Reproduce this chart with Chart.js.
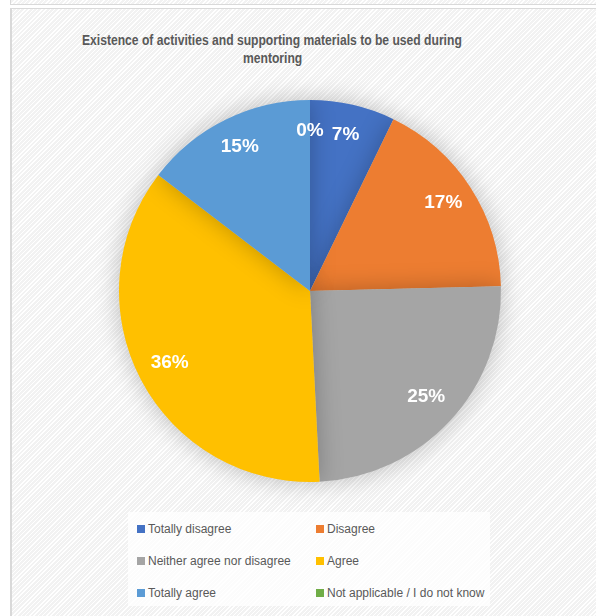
<!DOCTYPE html>
<html>
<head>
<meta charset="utf-8">
<script src="https://cdn.jsdelivr.net/npm/chart.js@4.4.1/dist/chart.umd.min.js"></script>
<style>
  html, body { margin: 0; padding: 0; width: 596px; height: 616px; overflow: hidden; background: #ffffff; }
  .pattern {
    background-color: #f6f6f6;
    background-image: repeating-linear-gradient(135deg, #ffffff 0px, #ffffff 1px, #f2f2f2 1px, #f2f2f2 3px);
  }
  #topbox { position: absolute; left: 10px; top: -10px; width: 600px; height: 15px; border: 1px solid #d9d9d9; box-sizing: border-box; }
  #frame { position: absolute; left: 10px; top: 8px; width: 620px; height: 640px; border: 1px solid #d9d9d9; border-width: 1px 0 0 2px; box-sizing: border-box; }
  .tl { position: absolute; left: 272px; font-family: "Liberation Sans", Arial, sans-serif; font-weight: bold; font-size: 14px; line-height: 18px; color: #595959; white-space: nowrap; transform-origin: 0 0; }
  #wrap { position: absolute; left: 89px; top: 70px; width: 442px; height: 442px; }
  #legend { position: absolute; left: 128px; top: 512px; width: 362px; height: 94px; background: rgba(255,255,255,0.75); }
  .li { position: absolute; font-family: "Liberation Sans", Arial, sans-serif; font-size: 12px; color: #595959; white-space: nowrap; line-height: 14px; }
  .li span.sw { display: inline-block; width: 8px; height: 8px; margin-right: 3px; vertical-align: 0px; }
</style>
</head>
<body>
<div id="topbox" class="pattern"></div>
<div id="frame" class="pattern"></div>
<div id="t1" class="tl" style="top:31px">Existence of activities and supporting materials to be used during</div>
<div id="t2" class="tl" style="top:49px">mentoring</div>
<div id="wrap"><canvas id="c" width="442" height="442"></canvas></div>
<div id="legend"></div>
<script>
const titleLines = ["Existence of activities and supporting materials to be used during", "mentoring"];
const categories = ["Totally disagree", "Disagree", "Neither agree nor disagree", "Agree", "Totally agree", "Not applicable / I do not know"];
const percentValues = [7.2, 17.4, 24.6, 36.2, 14.6, 0];
const sliceColors = ["#4472C4", "#ED7D31", "#A5A5A5", "#FFC000", "#5B9BD5", "#70AD47"];

// Title: fit the first line to the reference width (narrow Calibri-like look)
(function () {
  const t1 = document.getElementById('t1'), t2 = document.getElementById('t2');
  t1.textContent = titleLines[0]; t2.textContent = titleLines[1];
  const s = 380 / t1.offsetWidth;
  [t1, t2].forEach(el => {
    const w = el.offsetWidth * s;
    el.style.left = (272 - w / 2) + 'px';
    el.style.transform = 'scaleX(' + s + ')';
  });
})();

const shadowPlugin = {
  id: 'softShadow',
  beforeDatasetDraw(chart) {
    const ctx = chart.ctx;
    ctx.save();
    ctx.shadowColor = 'rgba(0,0,0,0.25)';
    ctx.shadowBlur = 24;
    ctx.shadowOffsetX = 0;
    ctx.shadowOffsetY = 0;
  },
  afterDatasetDraw(chart) {
    chart.ctx.restore();
  }
};

const labelPlugin = {
  id: 'pctLabels',
  afterDatasetsDraw(chart) {
    const ctx = chart.ctx;
    const meta = chart.getDatasetMeta(0);
    const vals = chart.data.datasets[0].data;
    ctx.save();
    ctx.fillStyle = '#ffffff';
    ctx.font = 'bold 19px "Liberation Sans", Arial, sans-serif';
    ctx.textAlign = 'center';
    ctx.textBaseline = 'middle';
    meta.data.forEach((arc, i) => {
      const mid = (arc.startAngle + arc.endAngle) / 2;
      const r = arc.outerRadius * 0.83;
      const x = arc.x + Math.cos(mid) * r;
      const y = arc.y + Math.sin(mid) * r - 2;
      ctx.fillText(Math.round(vals[i]) + '%', x, y);
    });
    ctx.restore();
  }
};

const chart = new Chart(document.getElementById('c'), {
  type: 'pie',
  data: {
    labels: categories,
    datasets: [{ data: percentValues, backgroundColor: sliceColors, borderWidth: 0 }]
  },
  options: {
    responsive: false,
    animation: false,
    layout: { padding: 30 },
    plugins: { legend: { display: false }, tooltip: { enabled: false }, title: { display: false } }
  },
  plugins: [shadowPlugin, labelPlugin]
});

// HTML legend built from the chart data (two columns, three rows)
const legend = document.getElementById('legend');
categories.forEach((name, i) => {
  const col = i % 2, row = Math.floor(i / 2);
  const d = document.createElement('div');
  d.className = 'li';
  d.style.left = (col === 0 ? 9 : 188) + 'px';
  d.style.top = (10 + row * 32) + 'px';
  d.innerHTML = '<span class="sw" style="background:' + sliceColors[i] + '"></span>' + name;
  legend.appendChild(d);
});
</script>
</body>
</html>
